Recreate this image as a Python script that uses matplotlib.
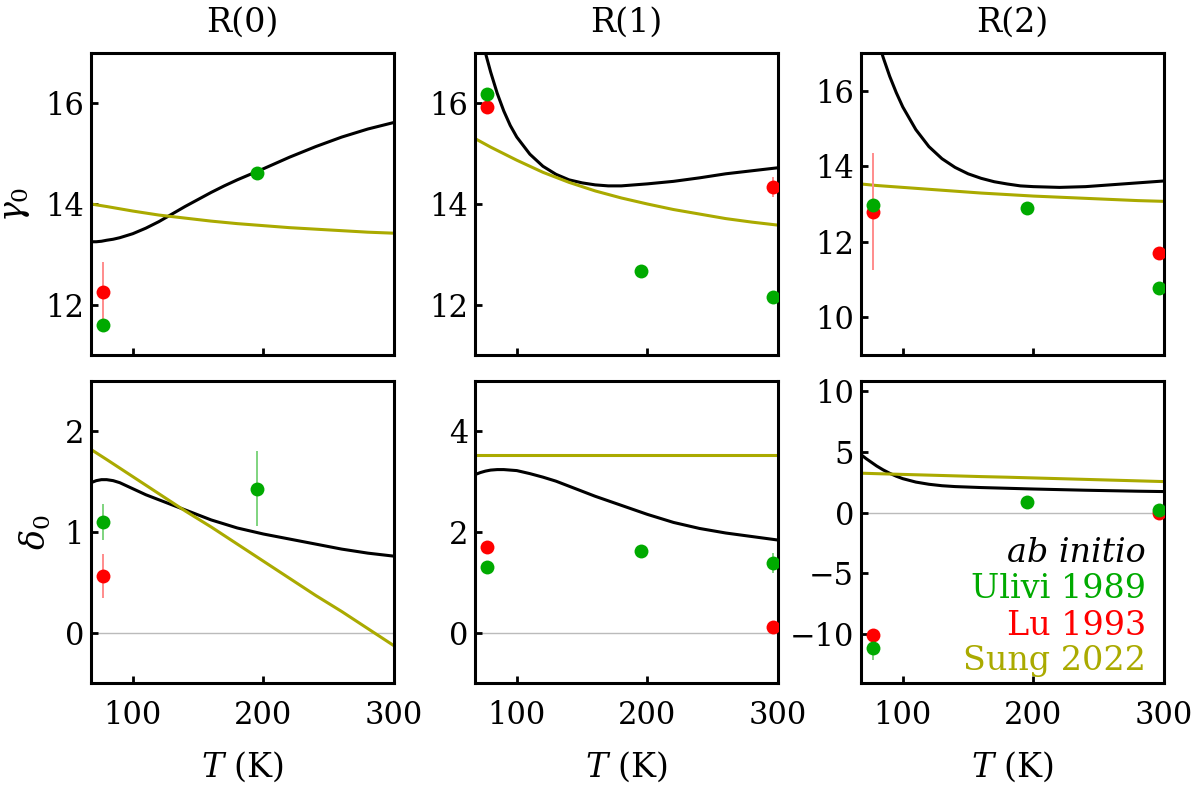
import matplotlib
matplotlib.use('Agg')
import matplotlib.pyplot as plt

plt.rcParams['font.family'] = 'DejaVu Serif'
plt.rcParams['mathtext.fontset'] = 'dejavuserif'

# colours (Mathematica-like)
black = 'black'
green = '#00aa00'
red = '#ff0000'
olive = '#aaaa00'
green_err = '#7fd47f'
red_err = '#ff8c8c'

lines = ['R(0)', 'R(1)', 'R(2)']

# temperature grid of the ab initio curves
T_ab = [68, 72, 76, 80, 85, 90, 95, 100, 110, 120, 130, 140, 150, 160, 170, 180,
        190, 200, 220, 240, 260, 280, 300]
# temperature grid of Sung 2022 curves
T_sung = [68, 80, 100, 120, 140, 160, 180, 200, 220, 240, 260, 280, 300]

# gamma_0 ab initio
gam_ab_R0 = [13.25, 13.25, 13.26, 13.28, 13.30, 13.33, 13.37, 13.41, 13.52, 13.65, 13.80,
             13.95, 14.09, 14.23, 14.36, 14.48, 14.59, 14.70, 14.93, 15.14, 15.33, 15.49, 15.62]
gam_ab_R1 = [17.85, 17.42, 17.0, 16.62, 16.20, 15.85, 15.56, 15.33, 14.99, 14.75, 14.59,
             14.48, 14.42, 14.38, 14.36, 14.36, 14.38, 14.40, 14.45, 14.52, 14.60, 14.66, 14.72]
gam_ab_R2 = [19.5, 18.8, 18.1, 17.45, 16.88, 16.38, 15.95, 15.57, 14.97, 14.52, 14.20,
             13.97, 13.80, 13.68, 13.59, 13.53, 13.48, 13.46, 13.44, 13.46, 13.51, 13.56, 13.61]
# delta_0 ab initio
del_ab_R0 = [1.49, 1.51, 1.52, 1.52, 1.51, 1.49, 1.46, 1.43, 1.37, 1.32, 1.27,
             1.22, 1.17, 1.12, 1.08, 1.04, 1.01, 0.98, 0.93, 0.88, 0.83, 0.79, 0.76]
del_ab_R1 = [3.14, 3.18, 3.21, 3.23, 3.24, 3.24, 3.23, 3.22, 3.16, 3.09, 3.01,
             2.91, 2.81, 2.71, 2.62, 2.53, 2.44, 2.35, 2.19, 2.07, 1.98, 1.91, 1.84]
del_ab_R2 = [4.75, 4.42, 4.12, 3.82, 3.50, 3.22, 2.98, 2.78, 2.50, 2.32, 2.20,
             2.13, 2.09, 2.05, 2.02, 1.99, 1.96, 1.93, 1.88, 1.83, 1.79, 1.75, 1.72]

# Sung 2022
gam_sung_R0 = [14.0, 13.95, 13.86, 13.78, 13.72, 13.66, 13.61, 13.57, 13.53, 13.50, 13.47, 13.44, 13.42]
gam_sung_R1 = [15.30, 15.13, 14.87, 14.63, 14.43, 14.26, 14.12, 14.00, 13.89, 13.80, 13.71, 13.64, 13.58]
gam_sung_R2 = [13.53, 13.49, 13.44, 13.39, 13.34, 13.29, 13.25, 13.21, 13.18, 13.15, 13.12, 13.09, 13.07]
del_sung_R0 = [1.82, 1.72, 1.55, 1.38, 1.21, 1.05, 0.88, 0.71, 0.54, 0.37, 0.21, 0.04, -0.13]
del_sung_R1 = [3.52, 3.52, 3.52, 3.52, 3.52, 3.52, 3.52, 3.52, 3.52, 3.52, 3.52, 3.52, 3.52]
del_sung_R2 = [3.23, 3.19, 3.13, 3.07, 3.01, 2.95, 2.90, 2.84, 2.78, 2.72, 2.66, 2.60, 2.54]

# Ulivi 1989 (green)
T_ul_R0 = [77, 195]
gam_ul_R0 = [11.6, 14.62]
gam_ul_R0_err = [0.05, 0.05]
del_ul_R0 = [1.1, 1.43]
del_ul_R0_err = [0.18, 0.37]
T_ul = [77, 195, 296]
gam_ul_R1 = [16.18, 12.67, 12.16]
gam_ul_R1_err = [0.05, 0.05, 0.05]
del_ul_R1 = [1.31, 1.62, 1.39]
del_ul_R1_err = [0.05, 0.05, 0.2]
gam_ul_R2 = [12.98, 12.9, 10.78]
gam_ul_R2_err = [0.05, 0.05, 0.05]
del_ul_R2 = [-11.15, 0.85, 0.17]
del_ul_R2_err = [1.0, 0.1, 0.1]

# Lu 1993 (red)
T_lu_R0 = [77]
gam_lu_R0 = [12.25]
gam_lu_R0_err = [0.6]
del_lu_R0 = [0.56]
del_lu_R0_err = [0.22]
T_lu = [77, 296]
gam_lu_R1 = [15.92, 14.33]
gam_lu_R1_err = [0.12, 0.2]
del_lu_R1 = [1.70, 0.11]
del_lu_R1_err = [0.05, 0.12]
gam_lu_R2 = [12.8, 11.71]
gam_lu_R2_err = [1.55, 0.05]
del_lu_R2 = [-10.05, 0.0]
del_lu_R2_err = [0.5, 0.1]

gam_ab = [gam_ab_R0, gam_ab_R1, gam_ab_R2]
del_ab = [del_ab_R0, del_ab_R1, del_ab_R2]
gam_sung = [gam_sung_R0, gam_sung_R1, gam_sung_R2]
del_sung = [del_sung_R0, del_sung_R1, del_sung_R2]
T_ul_all = [T_ul_R0, T_ul, T_ul]
gam_ul = [(gam_ul_R0, gam_ul_R0_err), (gam_ul_R1, gam_ul_R1_err), (gam_ul_R2, gam_ul_R2_err)]
del_ul = [(del_ul_R0, del_ul_R0_err), (del_ul_R1, del_ul_R1_err), (del_ul_R2, del_ul_R2_err)]
T_lu_all = [T_lu_R0, T_lu, T_lu]
gam_lu = [(gam_lu_R0, gam_lu_R0_err), (gam_lu_R1, gam_lu_R1_err), (gam_lu_R2, gam_lu_R2_err)]
del_lu = [(del_lu_R0, del_lu_R0_err), (del_lu_R1, del_lu_R1_err), (del_lu_R2, del_lu_R2_err)]

gam_ylim = [(11, 17), (11, 17), (9, 17)]
del_ylim = [(-0.5, 2.5), (-1, 5), (-14, 10.8)]
gam_ticks = [[12, 14, 16], [12, 14, 16], [10, 12, 14, 16]]
del_ticks = [[0, 1, 2], [0, 2, 4], [-10, -5, 0, 5, 10]]

W, H = 1200, 795
fig = plt.figure(figsize=(12, 7.95), dpi=100)
lefts = [91, 475, 861]
aw, ah = 303, 302


def style(ax, xlabels):
    for s in ax.spines.values():
        s.set_linewidth(2.2)
    ax.set_xlim(68, 300)
    ax.set_xticks([100, 200, 300])
    ax.tick_params(direction='in', length=5, width=2, labelsize=22,
                   top=False, right=False, labelbottom=xlabels)
    ax.tick_params(axis='x', pad=12)
    ax.tick_params(axis='y', pad=5)


def curve(ax, T, vals, col):
    ax.plot(T, vals, color=col, lw=2.2, zorder=2, solid_joinstyle='round')


def points(ax, T, data, col, ecol):
    vals, err = data
    ax.errorbar(T, vals, yerr=err, fmt='none', ecolor=ecol, elinewidth=1.4,
                capsize=0, zorder=3)
    ax.plot(T, vals, 'o', color=col, ms=10, mec='none', zorder=4)


for j in range(3):
    # top row: gamma_0
    ax = fig.add_axes([lefts[j] / W, 1 - (53 + ah) / H, aw / W, ah / H])
    style(ax, False)
    curve(ax, T_ab, gam_ab[j], black)
    curve(ax, T_sung, gam_sung[j], olive)
    points(ax, T_lu_all[j], gam_lu[j], red, red_err)
    points(ax, T_ul_all[j], gam_ul[j], green, green_err)
    ax.set_ylim(*gam_ylim[j])
    ax.set_yticks(gam_ticks[j])
    ax.text(0.5, 1.1, lines[j], transform=ax.transAxes, ha='center', va='center',
            fontsize=24)
    if j == 0:
        ax.set_ylabel(r'$\gamma_0$', fontsize=24)
        ax.yaxis.set_label_coords(-0.195, 0.5)

    # bottom row: delta_0
    ax = fig.add_axes([lefts[j] / W, 1 - (381 + ah) / H, aw / W, ah / H])
    style(ax, True)
    ax.axhline(0, color='#bbbbbb', lw=1, zorder=1)
    curve(ax, T_ab, del_ab[j], black)
    curve(ax, T_sung, del_sung[j], olive)
    points(ax, T_lu_all[j], del_lu[j], red, red_err)
    points(ax, T_ul_all[j], del_ul[j], green, green_err)
    ax.set_ylim(*del_ylim[j])
    ax.set_yticks(del_ticks[j])
    ax.set_xlabel(r'$T$ (K)', fontsize=24)
    ax.xaxis.set_label_coords(0.5, -0.22)
    if j == 0:
        ax.set_ylabel(r'$\delta_0$', fontsize=24)
        ax.yaxis.set_label_coords(-0.125, 0.5)
    if j == 2:
        ax.text(0.94, 0.402, 'ab initio', style='italic', color=black,
                transform=ax.transAxes, ha='right', va='baseline', fontsize=24)
        ax.text(0.94, 0.282, 'Ulivi 1989', color=green,
                transform=ax.transAxes, ha='right', va='baseline', fontsize=24)
        ax.text(0.94, 0.160, 'Lu 1993', color=red,
                transform=ax.transAxes, ha='right', va='baseline', fontsize=24)
        ax.text(0.94, 0.044, 'Sung 2022', color=olive,
                transform=ax.transAxes, ha='right', va='baseline', fontsize=24)

fig.savefig('out.png', dpi=100)
